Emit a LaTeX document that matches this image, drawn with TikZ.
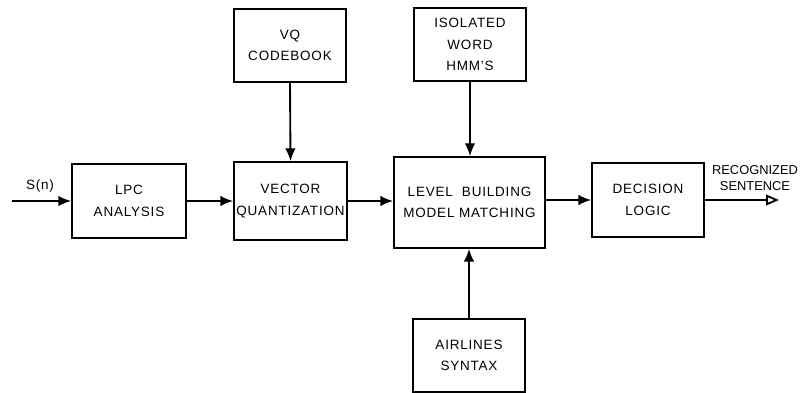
\documentclass[tikz,border=0pt]{standalone}
\usepackage{fontspec}
\setmainfont{Liberation Sans}[LetterSpace=6]
\usetikzlibrary{arrows.meta}
\begin{document}
\begin{tikzpicture}[x=0.03cm,y=-0.03cm,
  blk/.style={draw,line width=1.3pt,inner sep=0pt,align=center,font=\fontsize{11.5}{18.5}\selectfont},
  conn/.style={line width=1.6pt,-{Latex[length=11pt,width=9pt]}},
  lbl/.style={font=\fontsize{11.5}{15}\selectfont,align=center,inner sep=0pt}]
\useasboundingbox (0,0) rectangle (801,393);
\node[blk,minimum width=114*0.03cm,minimum height=74*0.03cm] (lpc) at (129,201) {LPC\\ANALYSIS};
\node[blk,minimum width=112*0.03cm,minimum height=73*0.03cm] (cb) at (290,45.5) {VQ\\CODEBOOK};
\node[blk,minimum width=113*0.03cm,minimum height=78*0.03cm] (vq) at (290.5,201) {VECTOR\\QUANTIZATION};
\node[blk,minimum width=151*0.03cm,minimum height=91*0.03cm] (lb) at (469.5,202.5) {LEVEL \ BUILDING\\MODEL MATCHING};
\node[blk,minimum width=112*0.03cm,minimum height=73*0.03cm] (iw) at (470,44.5) {ISOLATED\\WORD\\HMM'S};
\node[blk,minimum width=112*0.03cm,minimum height=74*0.03cm] (dl) at (648,200) {DECISION\\LOGIC};
\node[blk,minimum width=112*0.03cm,minimum height=73*0.03cm] (as) at (469,355.5) {AIRLINES\\SYNTAX};
\coordinate (in) at (12,201);
\coordinate (out) at (779,200);
\draw[conn] (in) -- (lpc.west);
\node[lbl,anchor=south] at (40,193) {S(n)};
\draw[conn] (lpc.east) -- (vq.west |- lpc.east);
\draw[conn] (vq.east) -- (lb.west |- vq.east);
\draw[conn] (lb.east |- dl.west) -- (dl.west);
\draw[conn] (cb.south) -- (vq.north);
\draw[conn] (iw.south) -- (lb.north -| iw.south);
\draw[conn] (as.north) -- (lb.south -| as.north);
\draw[line width=1.6pt,-{Triangle[open,length=11pt,width=9pt]}] (dl.east) -- (out);
\node[lbl,font=\fontsize{11}{14}\selectfont\addfontfeature{LetterSpace=0}] at (755,178) {RECOGNIZED\\SENTENCE};
\end{tikzpicture}
\end{document}
